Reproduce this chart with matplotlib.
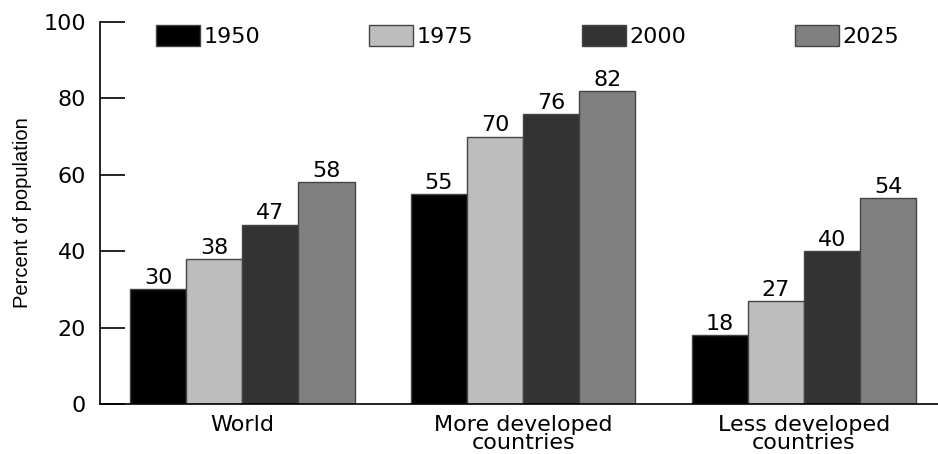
import matplotlib.pyplot as plt
from matplotlib import font_manager
import numpy as np

plt.rcParams['font.family'] = ['DejaVu Sans']

groups = ["World", "More developed\ncountries", "Less developed\ncountries"]
years = ["1950", "1975", "2000", "2025"]
v1950 = [30, 55, 18]
v1975 = [38, 70, 27]
v2000 = [47, 76, 40]
v2025 = [58, 82, 54]
colors = ["#000000", "#bdbdbd", "#333333", "#808080"]

# narrow font for the y label if there is one
names = {f.name for f in font_manager.fontManager.ttflist}
if "Liberation Sans Narrow" in names:
    ylab_font, ylab_size = "Liberation Sans Narrow", 17
else:
    ylab_font, ylab_size = "Liberation Sans", 14.5

fig = plt.figure(figsize=(9.38, 4.54), dpi=100)
ax = fig.add_axes([0.1066, 0.110, 0.8934, 0.8415])

x = np.arange(len(groups))
w = 0.2
for i, (vals, yr, c) in enumerate(zip([v1950, v1975, v2000, v2025], years, colors)):
    pos = x + (i - 1.5) * w
    ax.bar(pos, vals, w, color=c, edgecolor="#444444", linewidth=1, label=yr)
    for p, v in zip(pos, vals):
        ax.text(p, v + 0.3, str(v), ha="center", va="bottom", fontsize=16)

ax.set_xlim(-0.507, 2.478)
ax.set_ylim(0, 100)
ax.set_yticks([0, 20, 40, 60, 80, 100])
ax.set_xticks(x)
ax.set_xticklabels(groups, fontsize=16, linespacing=0.85)
ax.tick_params(axis="y", direction="in", length=18, width=1.2, pad=10, labelsize=16)
ax.tick_params(axis="x", length=0, pad=8)
ax.spines["top"].set_visible(False)
ax.spines["right"].set_visible(False)
ax.spines["left"].set_linewidth(1.2)
ax.spines["bottom"].set_linewidth(1.2)
ax.set_ylabel("Percent of population", fontsize=ylab_size, labelpad=8,
              family=ylab_font)

ax.legend(loc="center", bbox_to_anchor=(0.5107, 0.963), ncol=4, frameon=False,
          fontsize=16, handlelength=1.95, handleheight=1.08, handletextpad=0.18,
          columnspacing=4.9, borderpad=0.2)

fig.savefig("out.png", dpi=100)
